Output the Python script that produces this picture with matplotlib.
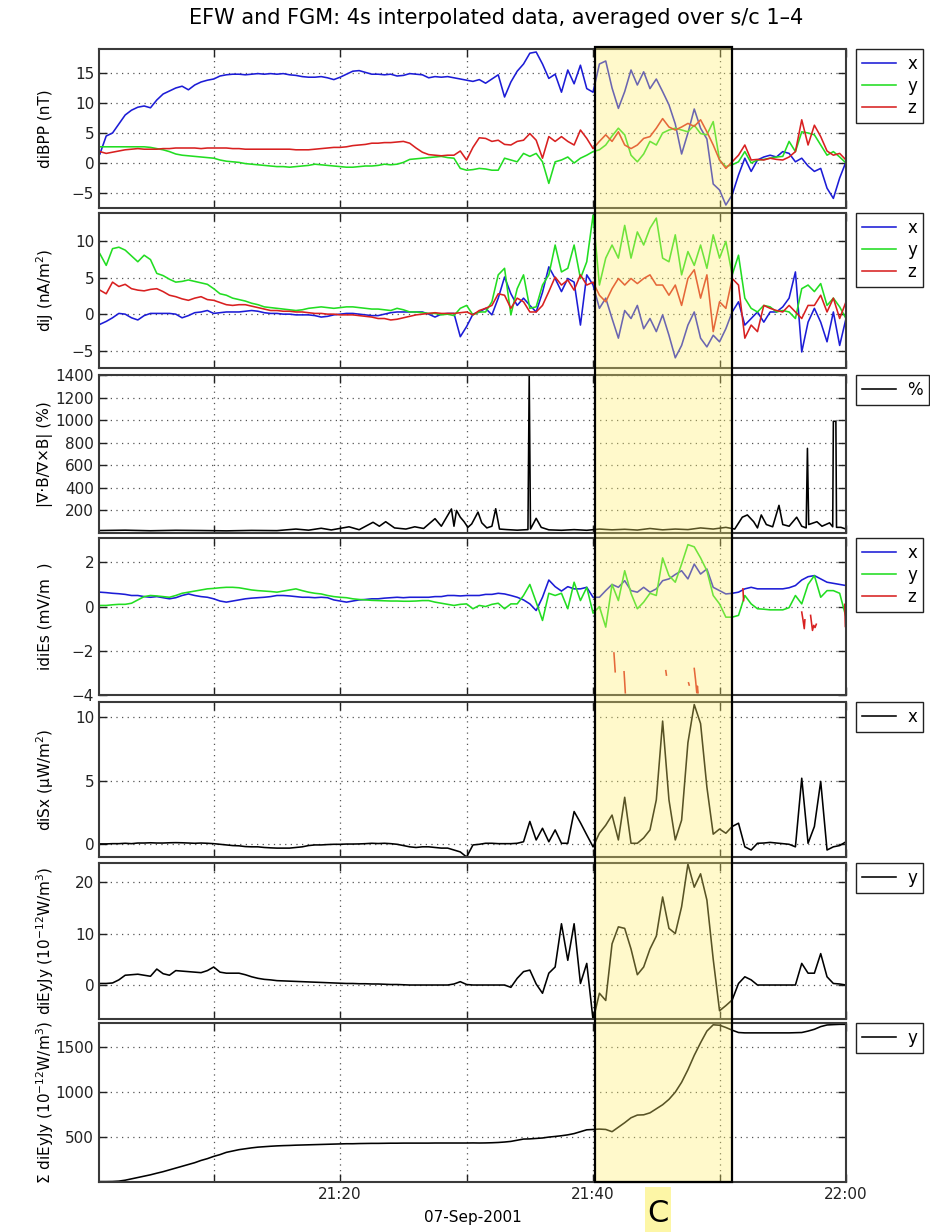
import numpy as np
import matplotlib
matplotlib.use("Agg")
import matplotlib.pyplot as plt
from matplotlib.patches import Rectangle
from matplotlib.transforms import blended_transform_factory

nan = float("nan")

# minutes after 21:00, one sample every 30 s (21:01 .. 22:00)
t_min = np.arange(1.0, 60.01, 0.5)

# panel 1: diBPP (nT)
bx = [1.5, 4.5, 5.0, 6.5, 8.0, 8.8, 9.3, 9.5, 9.2, 10.5,
      11.5, 12.0, 12.5, 12.8, 12.2, 13.0, 13.5, 13.8, 14.0, 14.5,
      14.7, 14.8, 14.8, 14.7, 14.8, 14.9, 14.8, 14.9, 14.8, 14.9,
      14.7, 14.6, 14.4, 14.3, 14.3, 14.4, 14.2, 13.9, 14.3, 14.8,
      15.3, 15.4, 15.1, 14.8, 14.8, 14.7, 14.8, 14.5, 14.6, 14.9,
      14.8, 14.7, 14.2, 14.4, 14.3, 14.4, 14.2, 14.0, 13.8, 13.6,
      13.9, 13.3, 14.0, 14.7, 11.0, 13.5, 15.3, 16.5, 18.3, 18.5,
      16.5, 14.1, 14.8, 11.8, 15.5, 13.2, 16.3, 12.4, 11.8, 16.5,
      17.0, 12.5, 9.1, 11.9, 15.5, 13.0, 15.2, 12.4, 14.0, 11.9,
      9.7, 6.5, 1.5, 5.0, 9.0, 5.8, 4.0, -3.5, -4.5, -7.0,
      -5.3, -2.0, 0.8, -1.4, 0.5, 1.0, 1.3, 1.0, 1.9, 1.6,
      0.2, 0.8, -0.5, -1.4, -0.9, -4.2, -5.9, -2.5, 0.2]
by = [2.7, 2.7, 2.7, 2.7, 2.7, 2.7, 2.7, 2.7, 2.6, 2.4,
      2.2, 1.9, 1.5, 1.3, 1.2, 1.1, 1.0, 0.9, 0.8, 0.5,
      0.3, 0.2, 0.1, -0.1, -0.2, -0.3, -0.4, -0.5, -0.6, -0.6,
      -0.7, -0.6, -0.5, -0.4, -0.2, -0.3, -0.4, -0.5, -0.6, -0.7,
      -0.7, -0.6, -0.5, -0.5, -0.4, -0.2, -0.3, -0.2, 0.1, 0.6,
      0.7, 0.8, 0.9, 1.0, 1.1, 0.9, 0.8, -0.9, -1.2, -1.1,
      -0.9, -1.0, -1.2, -1.2, 0.8, 0.5, 0.2, 1.6, 1.1, 1.6,
      0.2, -3.4, 0.2, 0.5, 1.0, 0.0, 0.8, 1.3, 1.9, 2.2,
      3.0, 4.5, 5.8, 4.7, 1.3, 0.2, 1.5, 3.6, 3.0, 5.0,
      5.5, 5.8, 5.5, 5.2, 6.3, 4.9, 4.7, 6.9, 0.5, -0.6,
      -0.3, 0.2, 1.9, 0.0, 0.5, 0.6, 0.8, 1.0, 1.1, 3.6,
      1.9, 5.2, 5.0, 4.7, 3.0, 1.3, 1.9, 1.0, 0.0]
bz = [1.9, 1.6, 1.8, 2.0, 2.2, 2.3, 2.4, 2.3, 2.3, 2.3,
      2.4, 2.4, 2.5, 2.5, 2.5, 2.5, 2.4, 2.5, 2.5, 2.5,
      2.5, 2.4, 2.4, 2.3, 2.3, 2.3, 2.3, 2.3, 2.3, 2.3,
      2.3, 2.2, 2.2, 2.2, 2.3, 2.4, 2.5, 2.6, 2.6, 2.7,
      2.9, 3.0, 3.1, 3.3, 3.3, 3.4, 3.4, 3.5, 3.6, 3.3,
      2.5, 1.8, 1.4, 1.3, 1.2, 1.3, 1.3, 2.0, 0.5, 2.6,
      4.2, 4.1, 3.6, 3.8, 3.1, 3.0, 3.6, 3.8, 4.9, 3.8,
      0.8, 4.4, 3.6, 4.4, 3.6, 3.0, 5.5, 4.1, 2.4, 3.6,
      4.7, 3.6, 5.2, 3.0, 2.4, 3.0, 4.1, 4.4, 5.8, 7.4,
      6.0, 5.5, 6.0, 6.6, 6.1, 7.2, 5.2, 3.0, 0.5, -0.9,
      0.2, 1.3, 3.0, 0.5, 0.6, 0.5, 0.8, 0.6, 0.5, 1.0,
      1.9, 7.2, 3.0, 6.3, 4.4, 2.0, 1.3, 1.6, 0.5]

# panel 2: diJ (nA/m^2)
jx = [-1.4, -1.0, -0.5, 0.1, 0.0, -0.5, -0.8, -0.2, 0.1, 0.1,
      0.1, 0.1, 0.0, -0.5, -0.2, 0.2, 0.3, 0.5, 0.1, 0.2,
      0.3, 0.3, 0.3, 0.4, 0.5, 0.4, 0.2, 0.1, 0.1, 0.0,
      0.0, -0.1, -0.1, -0.1, -0.2, -0.4, -0.3, -0.1, 0.0, 0.1,
      0.1, 0.0, -0.1, -0.2, -0.2, 0.0, 0.2, 0.3, 0.3, 0.3,
      0.3, 0.3, 0.0, -0.4, 0.0, 0.1, 0.1, -3.1, -1.7, 0.0,
      0.3, 0.8, -0.1, 2.2, 5.1, 2.8, 1.2, 2.2, 1.2, 0.3,
      3.0, 6.5, 4.9, 3.1, 4.9, 4.4, -1.5, 5.4, 4.0, 0.8,
      2.2, -0.6, -3.3, 0.5, -0.6, 1.2, -2.0, -0.6, -2.4, -0.1,
      -2.9, -6.0, -4.3, -1.5, 0.3, -3.3, -4.5, -2.9, -3.8, -2.0,
      0.3, 1.7, -1.5, -0.6, 0.3, -1.1, 0.3, 0.3, 1.0, 2.2,
      5.8, -5.2, -1.1, 0.8, -1.1, -3.8, 0.3, -4.3, -0.6]
jy = [8.3, 6.7, 9.0, 9.2, 8.8, 8.0, 7.2, 8.1, 7.5, 5.6,
      5.3, 4.8, 4.4, 4.5, 4.7, 4.5, 4.3, 4.1, 3.5, 2.8,
      2.6, 2.2, 2.0, 1.8, 1.5, 1.3, 1.0, 0.9, 0.8, 0.7,
      0.6, 0.5, 0.6, 0.8, 0.9, 1.0, 0.9, 0.8, 0.9, 1.0,
      1.0, 0.9, 0.8, 0.7, 0.7, 0.6, 0.5, 0.8, 0.6, 0.3,
      0.3, 0.2, 0.1, 0.1, -0.1, 0.0, -0.2, 0.8, 1.2, -0.1,
      0.3, 0.3, 1.7, 5.4, 6.3, -0.1, 3.5, 5.4, 0.8, 1.0,
      4.0, 5.4, 9.5, 5.8, 6.3, 9.5, 4.9, 7.2, 13.6, 4.0,
      7.7, 9.5, 7.7, 12.2, 7.7, 11.3, 9.5, 11.8, 13.2, 7.7,
      7.2, 10.9, 5.4, 8.6, 6.7, 9.5, 6.3, 10.9, 7.7, 10.0,
      5.4, 8.1, 2.2, 0.8, 0.3, 1.2, 1.0, 0.3, 0.5, 0.3,
      -0.6, 3.5, 4.0, 3.1, 4.2, 1.2, 2.2, 1.0, -0.6]
jz = [3.3, 2.8, 4.4, 3.8, 4.1, 3.5, 3.3, 3.2, 3.4, 3.5,
      3.1, 2.6, 2.4, 2.1, 1.9, 2.2, 2.4, 2.0, 1.9, 1.6,
      1.3, 1.2, 1.3, 1.3, 1.1, 0.9, 0.7, 0.5, 0.5, 0.4,
      0.4, 0.3, 0.3, 0.2, 0.1, 0.1, 0.0, 0.0, -0.1, -0.1,
      -0.1, -0.2, -0.3, -0.4, -0.6, -0.6, -0.8, -0.7, -0.5, -0.3,
      -0.1, 0.0, 0.1, 0.2, 0.1, 0.1, 0.1, 0.2, 0.3, -0.1,
      0.5, 0.8, 1.2, 2.8, 2.6, 0.8, 2.2, 1.7, 0.3, 0.3,
      1.2, 3.1, 5.1, 4.0, 4.7, 3.3, 5.4, 4.0, 4.4, 2.6,
      1.7, 3.5, 4.9, 4.0, 4.9, 4.2, 4.9, 5.4, 4.0, 4.0,
      2.6, 4.0, 1.2, 4.9, 6.1, 2.2, 5.4, -2.4, 1.7, 0.8,
      4.9, 4.0, -3.3, -1.5, -2.4, 1.2, 0.8, 0.5, 0.3, 1.2,
      0.3, -0.6, 1.2, 1.2, 2.6, 0.3, 2.2, -0.6, 1.7]

# panel 3: |div B / curl B| (%), irregular times to keep the narrow spikes
t_divb = [1.0, 3.0, 5.0, 7.0, 9.0, 11.0, 13.0, 15.0, 16.5, 17.5,
          18.5, 19.3, 20.7, 21.5, 22.6, 23.1, 23.6, 24.3, 25.2, 25.9,
          26.6, 27.5, 28.0, 28.8, 29.0, 29.2, 29.5, 29.8, 30.1, 30.4,
          30.9, 31.2, 31.6, 32.0, 32.3, 32.6, 33.2, 34.0, 34.85, 34.95,
          35.05, 35.5, 35.9, 36.5, 37.5, 38.5, 39.5, 40.5, 41.5, 42.5,
          43.5, 44.5, 45.5, 46.5, 47.5, 48.5, 49.5, 50.5, 51.2, 51.8,
          52.2, 52.7, 53.0, 53.3, 53.7, 54.2, 54.7, 55.0, 55.5, 56.1,
          56.5, 56.85, 56.95, 57.05, 57.7, 58.1, 58.7, 58.95, 59.0, 59.2,
          59.25, 59.6, 60.0]
divb = [22, 25, 20, 24, 22, 19, 23, 21, 35, 25,
        42, 27, 55, 29, 95, 60, 100, 45, 35, 55,
        40, 127, 60, 213, 60, 200, 140, 100, 50, 80,
        185, 90, 45, 60, 215, 35, 30, 25, 30, 1400,
        35, 130, 50, 28, 24, 30, 24, 35, 28, 33,
        26, 40, 28, 35, 30, 45, 35, 50, 35, 140,
        160, 100, 45, 160, 75, 55, 245, 75, 60, 140,
        60, 45, 750, 75, 100, 60, 90, 55, 990, 990,
        50, 50, 35]

# panel 4: idiEs (mV/m)
ex = [0.65, 0.63, 0.6, 0.58, 0.55, 0.5, 0.5, 0.45, 0.42, 0.45,
      0.4, 0.35, 0.4, 0.5, 0.57, 0.5, 0.45, 0.42, 0.35, 0.25,
      0.2, 0.25, 0.3, 0.35, 0.38, 0.4, 0.42, 0.45, 0.5, 0.5,
      0.48, 0.45, 0.42, 0.42, 0.4, 0.42, 0.4, 0.3, 0.25, 0.2,
      0.25, 0.3, 0.32, 0.35, 0.35, 0.38, 0.4, 0.42, 0.4, 0.42,
      0.42, 0.42, 0.42, 0.45, 0.45, 0.5, 0.5, 0.48, 0.5, 0.5,
      0.5, 0.55, 0.55, 0.6, 0.57, 0.5, 0.42, 0.3, 0.12, -0.18,
      0.42, 1.2, 0.9, 0.7, 0.9, 0.8, 0.8, 0.87, 0.42, 0.42,
      0.72, 1.0, 0.87, 1.17, 0.72, 0.65, 0.87, 0.65, 0.8, 1.17,
      1.25, 1.45, 1.62, 1.25, 1.92, 1.47, 1.7, 0.87, 0.72, 0.57,
      0.6, 0.65, 0.8, 0.87, 0.8, 0.8, 0.8, 0.8, 0.8, 0.85,
      0.95, 1.2, 1.35, 1.4, 1.25, 1.1, 1.05, 1.0, 0.95]
ey = [0.05, 0.05, 0.08, 0.1, 0.1, 0.15, 0.3, 0.45, 0.5, 0.48,
      0.45, 0.42, 0.5, 0.6, 0.65, 0.7, 0.75, 0.8, 0.82, 0.85,
      0.87, 0.87, 0.85, 0.8, 0.75, 0.72, 0.7, 0.68, 0.65, 0.7,
      0.75, 0.8, 0.72, 0.65, 0.6, 0.57, 0.5, 0.45, 0.42, 0.4,
      0.35, 0.32, 0.3, 0.28, 0.27, 0.26, 0.25, 0.25, 0.24, 0.24,
      0.25, 0.27, 0.27, 0.2, 0.15, 0.1, 0.05, 0.1, 0.12, -0.1,
      0.05, 0.0, 0.1, 0.15, -0.1, 0.12, 0.12, 0.5, 1.0, 0.2,
      -0.63, 0.6, 0.5, 0.6, -0.1, 1.1, 0.27, 0.87, -0.3, 0.0,
      -0.93, 1.0, 0.27, 1.62, 0.6, -0.1, 0.2, 0.6, 0.5, 2.2,
      1.4, 1.1, 1.92, 2.8, 2.7, 2.2, 1.62, 0.5, 0.12, -0.48,
      -0.48, -0.4, 0.5, 0.12, -0.1, -0.12, -0.15, -0.15, -0.15, -0.05,
      0.5, 0.12, 1.0, 1.4, 0.42, 0.72, 0.72, 0.6, -0.48]
# z component only exists in short pieces
t_ez = [41.65, 41.75, nan, 42.45, 42.55, nan, 45.75, 45.8, nan,
        47.55, 47.6, nan, 48.0, 48.1, 48.2, 48.25, 48.3, nan,
        51.85, 51.9, nan, 56.5, 56.6, 56.7, 56.75, nan,
        57.2, 57.35, 57.45, 57.55, 57.65, nan, 59.9, 59.95]
ez = [-2.1, -2.95, nan, -2.95, -3.9, nan, -2.9, -3.1, nan,
      -3.45, -3.55, nan, -2.8, -3.3, -3.9, -3.6, -3.9, nan,
      0.8, 0.27, nan, -0.25, -0.6, -1.0, -0.6, nan,
      -0.4, -1.08, -0.85, -0.95, -0.8, nan, 0.1, -0.9]

# panel 5: diSx (uW/m^2)
sx = [0.03, 0.03, 0.05, 0.05, 0.08, 0.05, 0.1, 0.1, 0.12, 0.1,
      0.1, 0.12, 0.13, 0.12, 0.1, 0.08, 0.1, 0.08, 0.05, 0.0,
      -0.05, -0.1, -0.12, -0.18, -0.2, -0.2, -0.25, -0.28, -0.3, -0.3,
      -0.3, -0.25, -0.2, -0.1, -0.05, -0.05, -0.02, 0.0, 0.0, 0.02,
      0.02, 0.03, 0.05, 0.08, 0.06, 0.08, 0.05, 0.0, -0.1, -0.2,
      -0.25, -0.2, -0.2, -0.25, -0.3, -0.3, -0.45, -0.6, -1.0, -0.05,
      0.0, 0.08, 0.08, 0.05, 0.05, 0.05, 0.08, 0.2, 1.8, 0.34,
      1.26, 0.2, 1.13, 0.08, 0.08, 2.58, 1.7, 0.74, -0.2, 0.87,
      1.5, 2.3, 0.34, 3.7, 0.08, 0.08, 0.5, 1.13, 3.5, 9.7,
      3.5, 0.34, 1.9, 8.0, 11.0, 9.5, 4.5, 0.8, 1.2, 0.87,
      1.4, 1.66, -0.2, -0.45, 0.08, 0.1, 0.15, 0.1, 0.05, 0.0,
      -0.2, 5.2, 0.08, 1.4, 4.95, -0.45, -0.2, -0.1, 0.2]

# panel 6: diEyJy (1e-12 W/m^3)
eyjy = [0.3, 0.3, 0.4, 1.0, 1.9, 2.0, 2.1, 1.9, 1.7, 3.1,
        2.2, 1.9, 2.8, 2.7, 2.6, 2.5, 2.4, 2.8, 3.5, 2.5,
        2.3, 2.3, 2.3, 2.0, 1.6, 1.3, 1.1, 1.0, 0.85, 0.8,
        0.75, 0.7, 0.65, 0.6, 0.55, 0.5, 0.45, 0.4, 0.35, 0.3,
        0.3, 0.25, 0.25, 0.2, 0.2, 0.15, 0.1, 0.1, 0.05, 0.0,
        0.0, 0.0, 0.0, 0.0, 0.0, 0.0, 0.2, 0.65, 0.1, 0.0,
        0.0, 0.0, 0.0, 0.0, 0.0, -0.45, 1.3, 2.6, 2.9, 0.2,
        -1.6, 2.3, 3.5, 11.9, 4.8, 11.9, 0.3, 4.2, -6.8, -1.6,
        -3.0, 8.0, 11.3, 11.0, 7.0, 2.0, 3.5, 7.0, 9.5, 17.1,
        11.0, 10.0, 15.2, 23.5, 19.0, 21.6, 16.5, 5.0, -5.0, -4.0,
        -2.9, 0.3, 1.6, 1.0, 0.0, 0.0, 0.0, 0.0, 0.0, 0.0,
        0.0, 4.2, 2.3, 2.3, 6.1, 1.6, 0.3, 0.2, 0.0]

# panel 7: cumulative diEyJy
sum_eyjy = [5, 5, 6, 10, 20, 35, 50, 65, 80, 98,
            115, 135, 155, 175, 195, 215, 240, 260, 285, 305,
            330, 345, 360, 370, 380, 388, 393, 398, 402, 405,
            407, 410, 412, 414, 416, 418, 420, 422, 424, 426,
            426, 428, 429, 430, 430, 431, 432, 432, 433, 433,
            433, 433, 433, 434, 434, 434, 434, 434, 434, 435,
            434, 435, 437, 440, 445, 452, 465, 478, 480, 485,
            490, 500, 507, 515, 525, 539, 560, 581, 585, 589,
            585, 560, 610, 660, 715, 745, 748, 770, 815, 860,
            920, 1000, 1110, 1250, 1410, 1550, 1680, 1750, 1745, 1720,
            1690, 1664, 1660, 1660, 1660, 1660, 1660, 1660, 1660, 1660,
            1662, 1664, 1680, 1700, 1730, 1748, 1752, 1755, 1755]

BLUE, GREEN, RED = "#1c1cd6", "#22dd22", "#d82020"
W, H = 930, 1232

fig = plt.figure(figsize=(9.3, 12.32), dpi=100)
rows = [(49, 208), (213, 368), (375, 533), (538, 695), (702, 857), (863, 1019), (1023, 1182)]
axes = [fig.add_axes([99 / W, 1 - b / H, 747 / W, (b - t) / H]) for t, b in rows]

ylabels = ["diBPP (nT)", "diJ (nA/m$^2$)", "|\u2207\u00b7B/\u2207\u00d7B| (%)", "idiEs (mV/m  )",
           "diSx (\u03bcW/m$^2$)", "diEyJy (10$^{-12}$W/m$^3$)", "\u03a3 diEyJy (10$^{-12}$W/m$^3$)"]
ylims = [(-7.5, 19), (-7.4, 13.9), (0, 1400), (-4, 3.1), (-1, 11.2), (-6.6, 23.7), (0, 1770)]
yticks = [[-5, 0, 5, 10, 15], [-5, 0, 5, 10], [200, 400, 600, 800, 1000, 1200, 1400],
          [-4, -2, 0, 2], [0, 5, 10], [0, 10, 20], [500, 1000, 1500]]

lw = 1.15
a = axes[0]
a.plot(t_min, bx, color=BLUE, lw=lw, label="x")
a.plot(t_min, by, color=GREEN, lw=lw, label="y")
a.plot(t_min, bz, color=RED, lw=lw, label="z")
a = axes[1]
a.plot(t_min, jx, color=BLUE, lw=lw, label="x")
a.plot(t_min, jy, color=GREEN, lw=lw, label="y")
a.plot(t_min, jz, color=RED, lw=lw, label="z")
axes[2].plot(t_divb, divb, color="k", lw=lw, label="%")
a = axes[3]
a.plot(t_min, ex, color=BLUE, lw=lw, label="x")
a.plot(t_min, ey, color=GREEN, lw=lw, label="y")
a.plot(t_ez, ez, color=RED, lw=lw, label="z")
axes[4].plot(t_min, sx, color="k", lw=lw, label="x")
axes[5].plot(t_min, eyjy, color="k", lw=lw, label="y")
axes[6].plot(t_min, sum_eyjy, color="k", lw=lw, label="y")

for i, ax in enumerate(axes):
    ax.set_xlim(0.93, 60)
    ax.set_ylim(*ylims[i])
    ax.set_xticks([10, 20, 30, 40, 50, 60])
    ax.set_yticks(yticks[i])
    ax.grid(True, linestyle=(0, (1, 3.5)), color="#555555", linewidth=0.9)
    ax.tick_params(direction="in", top=True, right=True, length=6, width=1,
                   labelsize=11, colors="#222222")
    for s in ax.spines.values():
        s.set_linewidth(1.5)
        s.set_color("#3a3a3a")
    if i < 6:
        ax.set_xticklabels([])
    else:
        ax.set_xticklabels(["", "21:20", "", "21:40", "", "22:00"])
    top, bot = rows[i]
    fig.text(45 / W, 1 - (top + bot) / 2 / H, ylabels[i], rotation=90,
             ha="center", va="center", fontsize=11)
    ax.legend(loc="upper left", bbox_to_anchor=(1.014, 1.0), borderaxespad=0,
              fancybox=False, edgecolor="#222222", framealpha=1, fontsize=12,
              handlelength=2.0, handletextpad=0.7, labelspacing=0.25, borderpad=0.35)

axes[6].set_xlabel("07-Sep-2001", fontsize=11, labelpad=6)

fig.text(496 / W, 1 - 18 / H, "EFW and FGM: 4s interpolated data, averaged over s/c 1\u20134",
         ha="center", va="center", fontsize=15)

# highlighted interval C, drawn on top of all panels
tr = blended_transform_factory(axes[6].transData, fig.transFigure)
y0, y1 = 1 - 1182 / H, 1 - 47 / H
fig.add_artist(Rectangle((40.15, y0), 10.8, y1 - y0, transform=tr,
                         facecolor=(1.0, 0.94, 0.42), alpha=0.35, edgecolor="none", zorder=10))
fig.add_artist(Rectangle((40.15, y0), 10.8, y1 - y0, transform=tr,
                         fill=False, edgecolor="k", linewidth=1.6, zorder=11))
fig.add_artist(Rectangle((645 / W, 0), 26 / W, 1 - 1187 / H, transform=fig.transFigure,
                         facecolor="#fdf6a6", edgecolor="none", zorder=11))
fig.text(658 / W, 1 - 1214 / H, "C", ha="center", va="center", fontsize=22, zorder=12)

fig.savefig("out.png", dpi=100)
